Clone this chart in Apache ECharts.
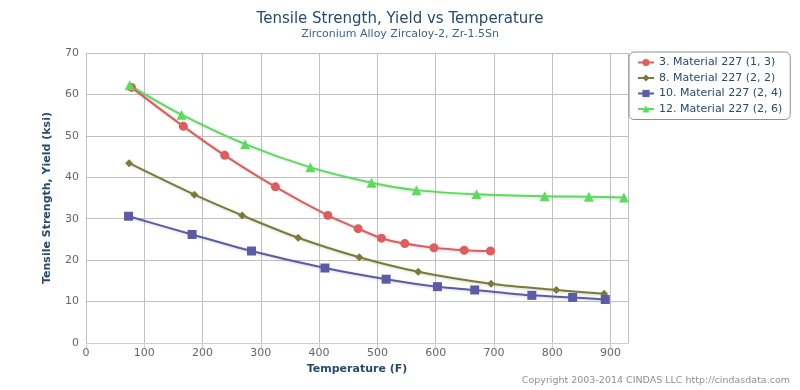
<!DOCTYPE html>
<html>
<head>
<meta charset="utf-8">
<script src="https://cdn.jsdelivr.net/npm/echarts@6/dist/echarts.min.js"></script>
<style>html,body{margin:0;padding:0;background:#fff}#c{width:800px;height:390px}</style>
</head>
<body>
<div id="c"></div>
<script>
const seriesNames = ['3. Material 227 (1, 3)', '8. Material 227 (2, 2)', '10. Material 227 (2, 4)', '12. Material 227 (2, 6)'];
const red = [[78,61.7],[167,52.3],[238,45.3],[325,37.7],[415,30.8],[467,27.6],[507,25.3],[547,24.0],[597,23.0],[649,22.4],[694,22.2]];
const olive = [[74,43.4],[186,35.8],[268,30.8],[364,25.4],[469,20.7],[570,17.2],[695,14.3],[807,12.8],[889,11.9]];
const blue = [[73,30.6],[182,26.2],[284,22.2],[410,18.1],[515,15.4],[603,13.6],[667,12.8],[765,11.5],[835,11.0],[891,10.5]];
const green = [[75,62.2],[164,55.1],[273,48.0],[385,42.4],[490,38.7],[567,36.9],[670,35.9],[787,35.4],[863,35.3],[923,35.1]];
const colors = ['#df5d5d', '#7b7b36', '#5b5ba7', '#5cdc5c'];
const symbols = ['circle', 'diamond', 'rect', 'triangle'];
const symbolSizes = [9, 8, 9, 10];
const allData = [red, olive, blue, green];
const FONT = 'DejaVu Sans';

const chart = echarts.init(document.getElementById('c'), null, {renderer: 'canvas'});
chart.setOption({
  animation: false,
  textStyle: {fontFamily: FONT},
  title: {
    text: 'Tensile Strength, Yield vs Temperature',
    subtext: 'Zirconium Alloy Zircaloy-2, Zr-1.5Sn',
    left: 'center', top: 7, itemGap: 2,
    textStyle: {fontFamily: FONT, fontSize: 15, fontWeight: 'normal', color: '#274b6d'},
    subtextStyle: {fontFamily: FONT, fontSize: 11, color: '#3e6390'}
  },
  legend: {
    orient: 'vertical', left: 629, top: 52,
    padding: [5, 8, 5, 8],
    borderColor: '#909090', borderWidth: 1, borderRadius: 5,
    itemWidth: 16, itemHeight: 9, itemGap: 4.5,
    textStyle: {fontFamily: FONT, fontSize: 11, color: '#274b6d'},
    data: seriesNames
  },
  grid: {left: 86, right: 172, top: 53, bottom: 47},
  xAxis: {
    type: 'value', min: 0, max: 930, interval: 100,
    name: 'Temperature (F)', nameLocation: 'middle', nameGap: 20,
    nameTextStyle: {fontFamily: FONT, fontSize: 11, fontWeight: 'bold', color: '#274b6d'},
    axisLine: {show: true, lineStyle: {color: '#c0d0e0'}},
    axisTick: {show: true, length: 5, lineStyle: {color: '#c0d0e0'}},
    axisLabel: {color: '#666', fontSize: 11, fontFamily: FONT, margin: 5, showMaxLabel: false},
    splitLine: {show: true, lineStyle: {color: '#c0c0c0'}}
  },
  yAxis: {
    type: 'value', min: 0, max: 70, interval: 10,
    name: 'Tensile Strength, Yield (ksi)', nameLocation: 'middle', nameGap: 33,
    nameTextStyle: {fontFamily: FONT, fontSize: 11, fontWeight: 'bold', color: '#274b6d'},
    axisLine: {show: false},
    axisTick: {show: false},
    axisLabel: {color: '#666', fontSize: 11, fontFamily: FONT, margin: 7},
    splitLine: {show: true, lineStyle: {color: '#c0c0c0'}}
  },
  graphic: [{
    type: 'text', right: 10, bottom: 4,
    style: {text: 'Copyright 2003-2014 CINDAS LLC http://cindasdata.com', fill: '#909090', fontSize: 9.5, fontFamily: FONT}
  }],
  series: allData.map((d, i) => ({
    name: seriesNames[i],
    type: 'line',
    data: d,
    smooth: 0.3,
    symbol: symbols[i],
    symbolSize: symbolSizes[i],
    showAllSymbol: true,
    itemStyle: {color: colors[i]},
    lineStyle: {width: 2, color: colors[i], shadowColor: 'rgba(0,0,0,0.18)', shadowBlur: 3, shadowOffsetX: 1, shadowOffsetY: 1}
  }))
});
</script>
</body>
</html>
